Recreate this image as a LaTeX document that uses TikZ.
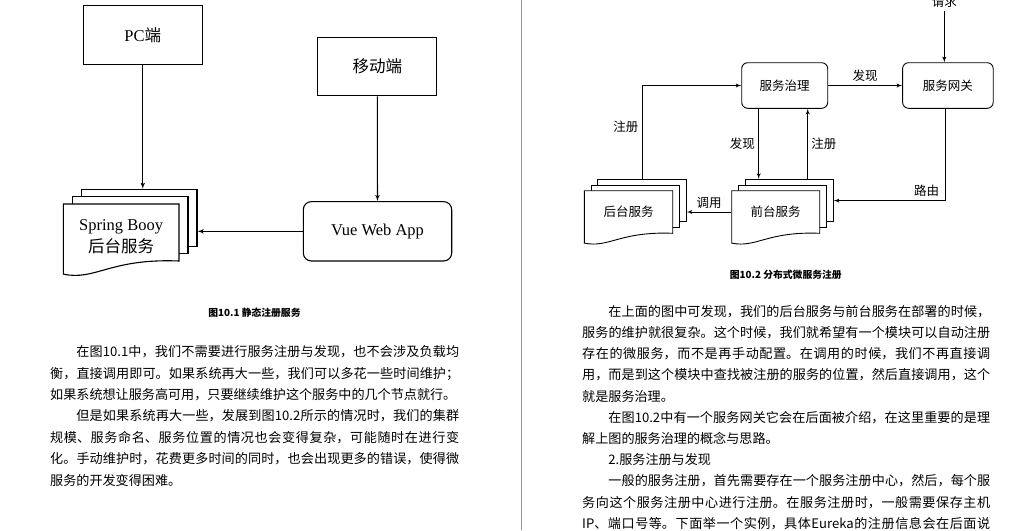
\documentclass[tikz,border=0pt]{standalone}
\usepackage{fontspec}
\setmainfont{Noto Sans CJK SC}
\newfontfamily\serifrm{Liberation Serif}
\XeTeXlinebreaklocale "zh"
\XeTeXlinebreakskip = 0pt plus 1pt
\usetikzlibrary{positioning, arrows, calc}
\tikzset{
x=1pt, y=-1pt, % work in pixels of the page, y pointing down
>=latex', % filled arrow heads
client/.style={draw, minimum width=119pt, minimum height=58.6pt, inner sep=0pt}, % plain boxes of fig. 10.1
svcbox/.style={draw, rounded corners=6pt, minimum height=45.6pt, inner sep=0pt}, % rounded boxes of fig. 10.2
page/.style={draw, fill=white}, % one sheet of a document stack
caption/.style={font=\fontsize{9.8}{12}\selectfont\bfseries},
bodytext/.style={inner sep=0pt, anchor=north west, align=justify, font=\fontsize{13.1}{21.4}\selectfont},
}
% stack of three documents: name, left, top, width, height, dx, dy, text, text shift
\newcommand{\paperstack}[9]{%
  \foreach \k in {2,1} {
    \draw[page] ({#2+\k*#6},{#3-\k*#7}) rectangle ++(#4,#5);
  }
  \draw[page] (#2,#3) -- ++(#4,0) -- ++(0,#5)
    .. controls +({-0.6*#4},{-0.05*#5}) and +({0.28*#4},{0.12*#5}) .. ({#2},{#3+1.23*#5}) -- cycle;
  \node[inner sep=0pt, minimum width=#4, minimum height=#5] (#1) at ({#2+#4/2},{#3+#5/2}) {};
  \node[align=center] at ([yshift=#9]#1.center) {#8};
  \node[inner sep=0pt, minimum width=#4, minimum height=#5] (#1-back) at ({#2+2*#6+#4/2},{#3-2*#7+#5/2}) {};
}

\begin{document}
\begin{tikzpicture}
\useasboundingbox (0,0) rectangle (1016,530);
\draw[gray!85, line width=1.5pt] (521.7,0) -- (521.7,530);

% fig. 10.1
\begin{scope}[line width=1.1pt, font=\fontsize{16.5}{22}\selectfont]
  \node[client] (pc) at (142.8,35) {{\serifrm PC}端};
  \node[client] (mobile) at (377.3,66.5) {移动端};
  \node[client, rounded corners=8pt, minimum width=148.4pt, minimum height=59.3pt] (vue) at (377.5,231.3) {\serifrm Vue Web App};
  \paperstack{spring}{63.3}{204}{115.7}{57}{9}{7.3}{{\serifrm Spring Booy}\\后台服务}{-4pt}
  \draw[->] (pc) -- (pc |- spring-back.north);
  \draw[->] (mobile) -- (vue);
  \draw[->] (vue) -- (vue -| spring-back.east);
\end{scope}
\node[caption] (cap1) at (254.5,313) {图10.1 静态注册服务};

% fig. 10.2
\begin{scope}[line width=0.9pt, font=\fontsize{12.5}{15}\selectfont]
  \node[svcbox, minimum width=86pt] (gov) at (784.7,85.5) {服务治理};
  \node[svcbox, minimum width=90.6pt, right=74pt of gov] (gw) {服务网关};
  \node (req) at (944.3,1.5) {请求};
  \paperstack{backsvc}{584.3}{190.7}{88.4}{42.6}{6.8}{5.7}{后台服务}{0pt}
  \paperstack{frontsvc}{731.7}{190.7}{88}{42.6}{6.8}{5.7}{前台服务}{0pt}
  \draw[->] (req) -- (req |- gw.north);
  \draw[->] (gov) -- node[above] {发现} (gw);
  \draw[->] (backsvc-back.north) |- node[pos=0.28, left] {注册} (gov.west);
  \draw[->] ([xshift=-26pt]gov.south) -- node[left] {发现} ([xshift=-26pt]gov.south |- frontsvc-back.north);
  \draw[->] ([xshift=23pt]gov.south |- frontsvc-back.north) -- node[right] {注册} ([xshift=23pt]gov.south);
  \draw[->] ([xshift=-2.7pt]gw.south) |- node[pos=0.51, above left] {路由} (frontsvc-back.east);
  \draw[->] (frontsvc.west) -- node[above] {调用} (frontsvc.west -| backsvc-back.east);
\end{scope}
\node[caption] (cap2) at (785.8,275) {图10.2 分布式微服务注册};

% text of the left page
\node[bodytext, text width=409pt] (lefttext) at (50,345.5) {\tolerance=9999
\hspace*{2em}在图10.1中，我们不需要进行服务注册与发现，也不会涉及负载均\linebreak
衡，直接调用即可。如果系统再大一些，我们可以多花一些时间维护；\linebreak
如果系统想让服务高可用，只要继续维护这个服务中的几个节点就行。\par
\hspace*{2em}但是如果系统再大一些，发展到图10.2所示的情况时，我们的集群\linebreak
规模、服务命名、服务位置的情况也会变得复杂，可能随时在进行变\linebreak
化。手动维护时，花费更多时间的同时，也会出现更多的错误，使得微\linebreak
服务的开发变得困难。\par};

% text of the right page
\node[bodytext, text width=408pt, font=\fontsize{13.1}{21.2}\selectfont] (righttext) at (582,305) {\tolerance=9999
\hspace*{2em}在上面的图中可发现，我们的后台服务与前台服务在部署的时候，\linebreak
服务的维护就很复杂。这个时候，我们就希望有一个模块可以自动注册\linebreak
存在的微服务，而不是再手动配置。在调用的时候，我们不再直接调\linebreak
用，而是到这个模块中查找被注册的服务的位置，然后直接调用，这个\linebreak
就是服务治理。\par
\hspace*{2em}在图10.2中有一个服务网关它会在后面被介绍，在这里重要的是理\linebreak
解上图的服务治理的概念与思路。\par
\hspace*{2em}2.服务注册与发现\par
\hspace*{2em}一般的服务注册，首先需要存在一个服务注册中心，然后，每个服\linebreak
务向这个服务注册中心进行注册。在服务注册时，一般需要保存主机\linebreak
IP、端口号等。下面举一个实例，具体Eureka的注册信息会在后面说\parfillskip=0pt\par};
\end{tikzpicture}
\end{document}
